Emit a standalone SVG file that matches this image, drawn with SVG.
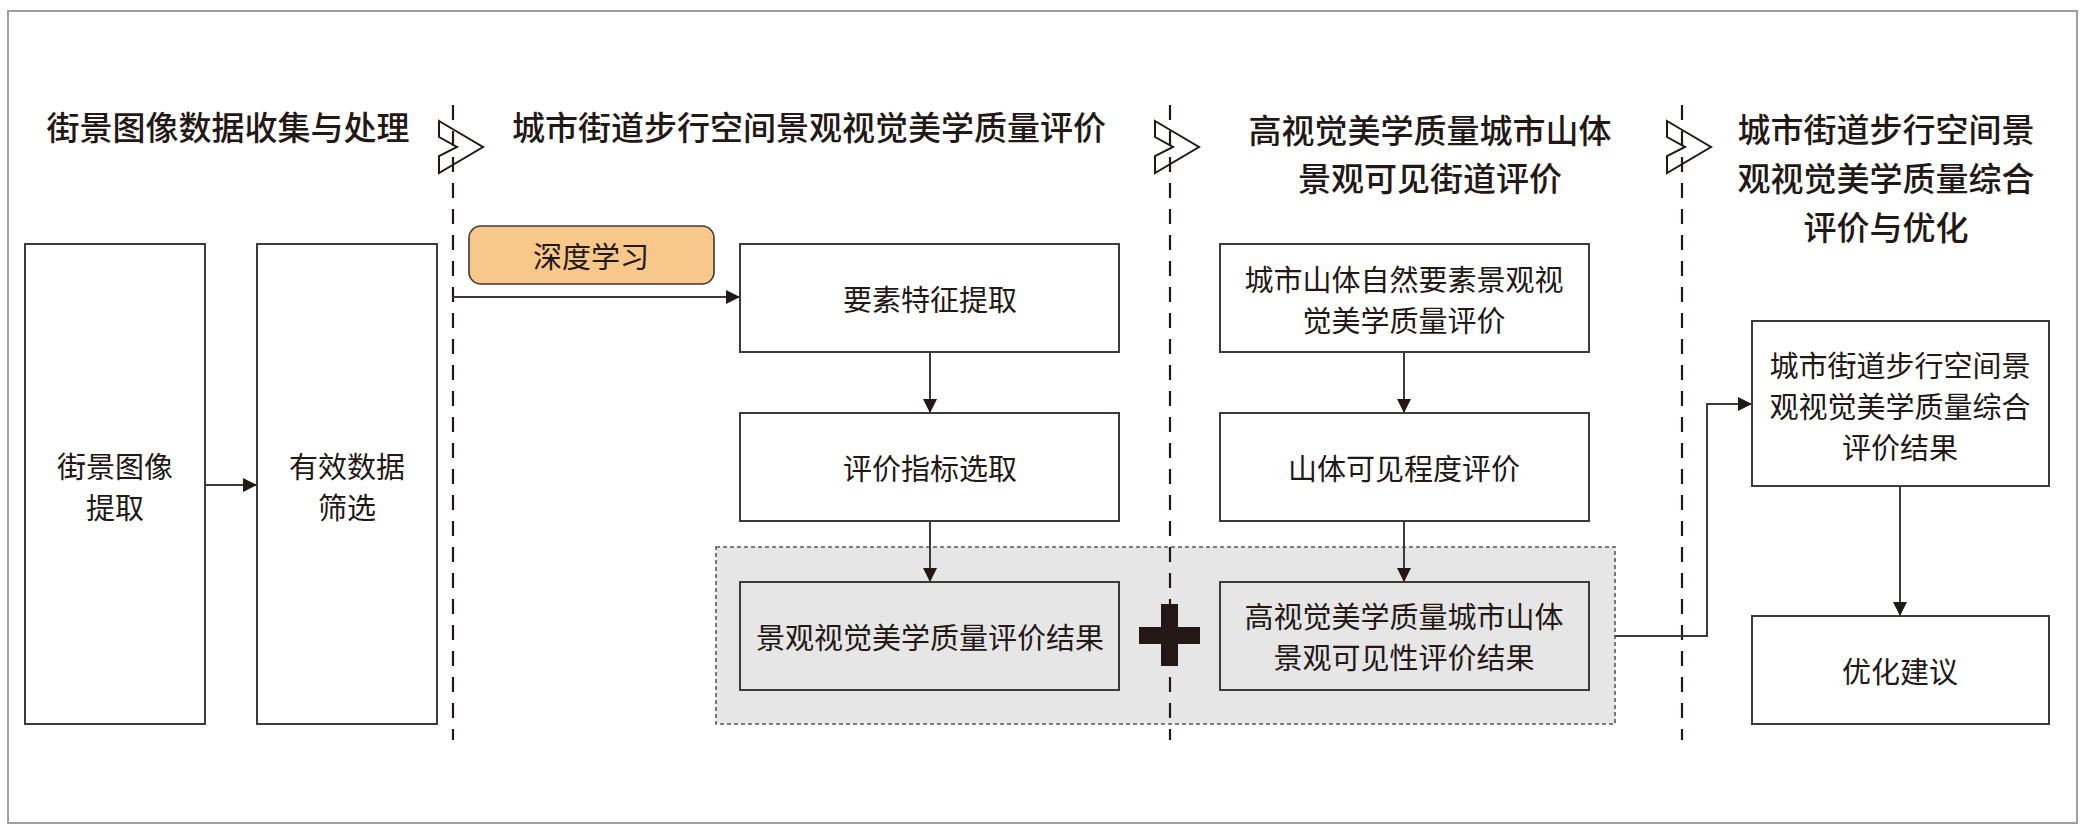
<svg xmlns="http://www.w3.org/2000/svg" width="2088" height="833" viewBox="0 0 2088 833">
<defs>
<style>
text{font-family:"Noto Sans CJK SC","Noto Sans CJK TC",sans-serif;fill:#231815;text-anchor:middle;dominant-baseline:central}
.title{font-size:33px;font-weight:500}
.lbl{font-size:29px}
.box{fill:#ffffff;stroke:#3e3a39;stroke-width:2}
.gbox{fill:#e6e6e6;stroke:#3e3a39;stroke-width:2}
.conn{fill:none;stroke:#3e3a39;stroke-width:2}
.sep{fill:none;stroke:#231815;stroke-width:2.2;stroke-dasharray:15 11}
.chev{fill:none;stroke:#231815;stroke-width:2;stroke-linejoin:miter}
</style>
<marker id="arrB" viewBox="0 0 10 10" refX="10" refY="5" markerWidth="14" markerHeight="14" markerUnits="userSpaceOnUse" orient="auto">
<path d="M0,0 L10,5 L0,10 z" fill="#231815"/>
</marker>
</defs>
<rect x="0" y="0" width="2088" height="833" fill="#ffffff"/>
<rect x="8" y="11" width="2069" height="812" fill="none" stroke="#9f9fa0" stroke-width="2"/>

<g id="highlight-region">
<rect x="716" y="547" width="899" height="177" fill="#e6e6e6" stroke="#595757" stroke-width="1.6" stroke-dasharray="4 3"/>
</g>

<g id="separators">
<line class="sep" x1="453" y1="105" x2="453" y2="740"/>
<line class="sep" x1="1170" y1="105" x2="1170" y2="740"/>
<line class="sep" x1="1682" y1="105" x2="1682" y2="740"/>
<path class="chev" d="M439,121 L483,147 L439,173 L439,156 L457,147 L439,137 Z"/>
<path class="chev" d="M1155,121 L1199,147 L1155,173 L1155,156 L1173,147 L1155,137 Z"/>
<path class="chev" d="M1667,121 L1711,147 L1667,173 L1667,156 L1685,147 L1667,137 Z"/>
</g>

<g id="titles">
<text class="title" x="228" y="126">街景图像数据收集与处理</text>
<text class="title" x="809" y="126">城市街道步行空间景观视觉美学质量评价</text>
<text class="title" x="1430" y="129">高视觉美学质量城市山体</text>
<text class="title" x="1430" y="177">景观可见街道评价</text>
<text class="title" x="1886" y="128">城市街道步行空间景</text>
<text class="title" x="1886" y="177">观视觉美学质量综合</text>
<text class="title" x="1886" y="226">评价与优化</text>
</g>

<g id="connectors">
<line class="conn" x1="205" y1="485" x2="257" y2="485" marker-end="url(#arrB)"/>
<line class="conn" x1="453" y1="297" x2="740" y2="297" marker-end="url(#arrB)"/>
<line class="conn" x1="930" y1="352" x2="930" y2="413" marker-end="url(#arrB)"/>
<line class="conn" x1="930" y1="521" x2="930" y2="582" marker-end="url(#arrB)"/>
<line class="conn" x1="1404" y1="352" x2="1404" y2="413" marker-end="url(#arrB)"/>
<line class="conn" x1="1404" y1="521" x2="1404" y2="582" marker-end="url(#arrB)"/>
<path class="conn" d="M1615,636 L1707,636 L1707,404 L1752,404" marker-end="url(#arrB)"/>
<line class="conn" x1="1900" y1="486" x2="1900" y2="616" marker-end="url(#arrB)"/>
</g>

<g id="node-streetview">
<rect class="box" x="25" y="244" width="180" height="480"/>
<text class="lbl" x="115" y="465">街景图像</text>
<text class="lbl" x="115" y="506">提取</text>
</g>
<g id="node-filter">
<rect class="box" x="257" y="244" width="180" height="480"/>
<text class="lbl" x="347" y="465">有效数据</text>
<text class="lbl" x="347" y="506">筛选</text>
</g>
<g id="node-deeplearning">
<rect x="469" y="226" width="245" height="58" rx="12" ry="12" fill="#f8c78a" stroke="#3e3a39" stroke-width="1.6"/>
<text class="lbl" x="591" y="255">深度学习</text>
</g>
<g id="node-feature">
<rect class="box" x="740" y="244" width="379" height="108"/>
<text class="lbl" x="930" y="298">要素特征提取</text>
</g>
<g id="node-index">
<rect class="box" x="740" y="413" width="379" height="108"/>
<text class="lbl" x="930" y="467">评价指标选取</text>
</g>
<g id="node-result1">
<rect class="gbox" x="740" y="582" width="379" height="108"/>
<text class="lbl" x="930" y="636">景观视觉美学质量评价结果</text>
</g>
<g id="node-mountain-eval">
<rect class="box" x="1220" y="244" width="369" height="108"/>
<text class="lbl" x="1404" y="278">城市山体自然要素景观视</text>
<text class="lbl" x="1404" y="319">觉美学质量评价</text>
</g>
<g id="node-visibility">
<rect class="box" x="1220" y="413" width="369" height="108"/>
<text class="lbl" x="1404" y="467">山体可见程度评价</text>
</g>
<g id="node-result2">
<rect class="gbox" x="1220" y="582" width="369" height="108"/>
<text class="lbl" x="1404" y="615">高视觉美学质量城市山体</text>
<text class="lbl" x="1404" y="656">景观可见性评价结果</text>
</g>
<g id="node-plus">
<rect x="1139" y="627" width="61" height="17" fill="#231815"/>
<rect x="1161" y="604" width="17" height="62" fill="#231815"/>
</g>
<g id="node-combined">
<rect class="box" x="1752" y="321" width="297" height="165"/>
<text class="lbl" x="1900" y="364">城市街道步行空间景</text>
<text class="lbl" x="1900" y="405">观视觉美学质量综合</text>
<text class="lbl" x="1900" y="446">评价结果</text>
</g>
<g id="node-suggestion">
<rect class="box" x="1752" y="616" width="297" height="108"/>
<text class="lbl" x="1900" y="670">优化建议</text>
</g>
</svg>
